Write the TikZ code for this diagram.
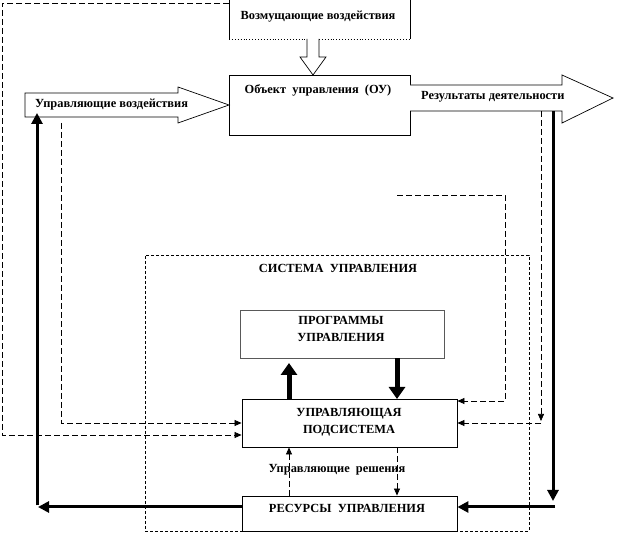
\documentclass[tikz,border=0pt]{standalone}
\usepackage{fontspec}
\setmainfont{Liberation Serif}
\usetikzlibrary{arrows.meta}
\begin{document}
\begin{tikzpicture}[x=1pt,y=-1pt,
  lbl/.style={inner sep=0pt,font=\fontsize{12.4}{17.5}\selectfont\bfseries,align=center},
  box/.style={draw,line width=0.9pt,inner sep=0pt},
  dsh/.style={dashed,dash pattern=on 6pt off 3pt,line width=0.7pt,-{Triangle[length=7pt,width=6pt]}},
  thickarr/.style={line width=3pt,-{Triangle[length=11pt,width=11pt]}},
  bigarr/.style={line width=5pt,-{Triangle[length=12pt,width=16pt]}},
  hollow/.style={draw,line width=0.7pt,fill=white}]
\useasboundingbox (0,0) rectangle (625,534);
% system area
\node[draw,dash pattern=on 3pt off 2pt,line width=0.7pt,minimum width=384pt,minimum height=276pt,inner sep=0pt] (sys) at (337,393) {};
\node[lbl] (systxt) at (338,268) {СИСТЕМА\ \ УПРАВЛЕНИЯ};
% boxes
\draw[line width=0.9pt] (229,0) -- (229,39);
\draw[line width=0.9pt] (410,0) -- (410,39);
\draw[line width=0.9pt,dotted] (229,39) -- (410,39);
\node[lbl] (vz) at (318,17) {Возмущающие воздействия};
\node[box,minimum width=181pt,minimum height=60pt] (obj) at (319.5,105) {};
\node[lbl] (objtxt) at (318,90) {Объект\ \ управления\ \ (ОУ)};
\node[box,draw=black!65,minimum width=204pt,minimum height=48pt] (prog) at (342,334) {};
\node[lbl] (progtxt) at (341,329) {ПРОГРАММЫ\\УПРАВЛЕНИЯ};
\node[box,minimum width=215pt,minimum height=48pt] (upr) at (349.5,423) {};
\node[lbl] (uprtxt) at (349,422) {УПРАВЛЯЮЩАЯ\\ПОДСИСТЕМА};
\node[box,minimum width=215pt,minimum height=35pt] (res) at (349.5,513.5) {};
\node[lbl] (restxt) at (347,508) {РЕСУРСЫ\ \ УПРАВЛЕНИЯ};
% hollow arrows
\draw[hollow] (307,39) -- (307,57) -- (300,57) -- (313,75) -- (326,57) -- (319,57) -- (319,39);
\draw[hollow] (25,93) -- (178,93) -- (178,87) -- (229,105) -- (178,123) -- (178,117) -- (25,117) -- cycle;
\draw[hollow] (410,85) -- (562,85) -- (562,75) -- (613,98) -- (562,123) -- (562,111) -- (410,111);
\node[lbl,anchor=west] (uvtxt) at (35,105) {Управляющие воздействия};
\node[lbl,anchor=west] (rdtxt) at (421,97) {Результаты деятельности};
% dashed feedback lines
\coordinate (c1) at (2,3);
\coordinate (c2) at (2,435);
\draw[dsh] (229,3) -- (c1) -- (c2) -- (upr.west |- c2);
\coordinate (d1) at (61,123);
\coordinate (d2) at (61,423);
\draw[dsh] (d1) -- (d2) -- (upr.west |- d2);
\coordinate (e1) at (397,195);
\coordinate (e2) at (505,195);
\coordinate (e3) at (505,401);
\draw[dsh] (e1) -- (e2) -- (e3) -- (upr.east |- e3);
\coordinate (f1) at (541,111);
\coordinate (f2) at (541,421);
\coordinate (f3) at (541,423);
\draw[dsh] (f1) -- (f2);
\draw[dsh] (f3) -- (upr.east |- f3);
% thick lines
\coordinate (g1) at (553,111);
\coordinate (g2) at (553,501);
\coordinate (g3) at (555,507);
\draw[thickarr] (g1) -- (g2);
\draw[thickarr] (g3) -- (res.east |- g3);
\coordinate (h1) at (37,507);
\coordinate (h2) at (37,113);
\draw[thickarr] (res.west |- h1) -- ([xshift=1pt]h1);
\draw[thickarr] ([yshift=1.5pt]h1) -- (h2);
% big arrows between prog and upr
\draw[bigarr] (upr.north -| 289,0) -- (289,363);
\draw[bigarr] (prog.south -| 397,0) -- (397,399);
% decisions
\draw[dsh] (res.north -| 289,0) -- (upr.south -| 289,0);
\draw[dsh] (upr.south -| 397,0) -- (res.north -| 397,0);
\node[lbl] (udtxt) at (337,470) {Управляющие\ \ решения};
\end{tikzpicture}
\end{document}
